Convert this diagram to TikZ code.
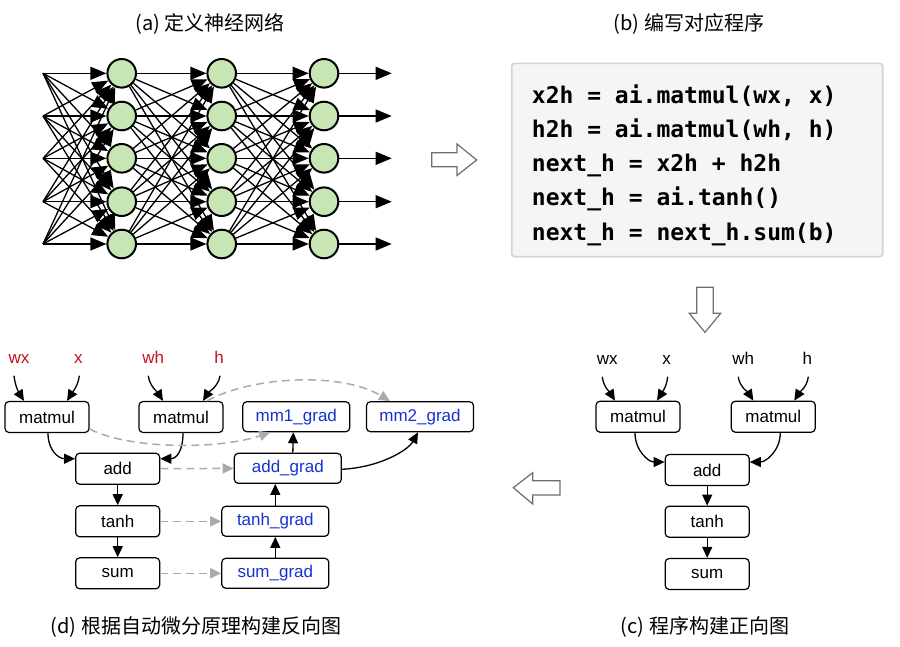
\documentclass[tikz,border=0pt]{standalone}
\usepackage{fontspec}
\setmainfont{Liberation Sans}
\newfontfamily\cjk{Noto Sans CJK SC}
\newfontfamily\codefont{DejaVu Sans Mono}
\usetikzlibrary{arrows.meta}
\definecolor{nodered}{RGB}{200,16,30}
\definecolor{gradblue}{RGB}{20,50,210}
\definecolor{dashgray}{RGB}{170,170,170}
\definecolor{cellgreen}{RGB}{200,230,180}
\definecolor{codebg}{RGB}{245,245,245}
\definecolor{codeframe}{RGB}{212,212,212}
\definecolor{hollow}{RGB}{110,110,110}
\tikzset{
	cell/.style={circle, draw, line width=2pt, fill=cellgreen, minimum size=28.6pt, inner sep=0pt},
	netedge/.style={line width=1.3pt, -{Triangle[length=16pt,width=13pt]}},
	opbox/.style={draw, rounded corners=4pt, line width=1.2pt, minimum width=84pt, minimum height=31pt, inner sep=0pt, font=\fontsize{17}{19}\selectfont},
	gradbox/.style={opbox, minimum width=107pt, minimum height=30pt, text=gradblue},
	inlabel/.style={anchor=base, inner sep=1pt, text depth=0pt, font=\fontsize{17}{19}\selectfont},
	fwd/.style={line width=1.3pt, -{Triangle[length=11pt,width=10pt]}},
	copy/.style={line width=1.5pt, color=dashgray, dash pattern=on 8pt off 5pt, -{Triangle[length=11pt,width=10pt]}},
	codeline/.style={anchor=base west, inner sep=0pt, font=\codefont\bfseries\fontsize{23}{23}\selectfont},
	caption/.style={font=\cjk\fontsize{20}{22}\selectfont},
	hollowarrow/.style={draw=hollow, line width=1.2pt, fill=white, line join=miter}
}

\begin{document}
\begin{tikzpicture}[x=1pt, y=-1pt]
			%%%%% START %%%%%
			\useasboundingbox (0, 0) rectangle (900, 646);
			
			\node[caption] (capa) at (210, 24) {(a) 定义神经网络};
			\node[caption] (capb) at (689, 24) {(b) 编写对应程序};
			\node[caption] (capd) at (196, 627) {(d) 根据自动微分原理构建反向图};
			\node[caption] (capc) at (705, 627) {(c) 程序构建正向图};
			
			% network
			\foreach \r/\y in {1/73.3, 2/116, 3/158.3, 4/201.7, 5/244} {
				\coordinate (in\r) at (43, \y);
				\node[cell] (a\r) at (121.7, \y) {};
				\node[cell] (b\r) at (221.7, \y) {};
				\node[cell] (c\r) at (324, \y) {};
				\coordinate (out\r) at (391.7, \y);
			}
			\foreach \i in {1,...,5}
				\foreach \j in {1,...,5} {
					\draw[netedge] (in\i) -- (a\j);
					\draw[netedge] (a\i) -- (b\j);
					\draw[netedge] (b\i) -- (c\j);
				}
			\foreach \i in {1,...,5}
				\draw[netedge] (c\i) -- (out\i);
			
			% program
			\draw[rounded corners=3pt, fill=codebg, draw=codeframe, line width=1.6pt] (511.7, 63.3) rectangle (882.7, 256.7);
			\node[codeline] (l1) at (531.7, 103.3) {x2h = ai.matmul(wx, x)};
			\node[codeline] (l2) at (531.7, 137.5) {h2h = ai.matmul(wh, h)};
			\node[codeline] (l3) at (531.7, 171.7) {next\_h = x2h + h2h};
			\node[codeline] (l4) at (531.7, 205.9) {next\_h = ai.tanh()};
			\node[codeline] (l5) at (531.7, 240.1) {next\_h = next\_h.sum(b)};
			
			% hollow arrows
			\draw[hollowarrow] (431.7, 152.7) -- (457, 152.7) -- (457, 144) -- (476.7, 160) -- (457, 175.5) -- (457, 166.7) -- (431.7, 166.7) -- cycle;
			\draw[hollowarrow] (696.7, 287.3) -- (713.3, 287.3) -- (713.3, 313.3) -- (720.7, 313.3) -- (705, 332.3) -- (689.3, 313.3) -- (696.7, 313.3) -- cycle;
			\draw[hollowarrow] (560, 480.7) -- (532.7, 480.7) -- (532.7, 472.7) -- (513.3, 487.7) -- (532.7, 504) -- (532.7, 495) -- (560, 495) -- cycle;
			
			% forward graph
			\node[inlabel] (fwx) at (607.3, 364.5) {wx};
			\node[inlabel] (fx) at (666.7, 364.5) {x};
			\node[inlabel] (fwh) at (743.3, 364.5) {wh};
			\node[inlabel] (fh) at (807.3, 364.5) {h};
			\node[opbox] (fm1) at (638, 416.7) {matmul};
			\node[opbox] (fm2) at (773.3, 416.7) {matmul};
			\node[opbox] (fadd) at (707.2, 470) {add};
			\node[opbox] (ftanh) at (707.2, 521.7) {tanh};
			\node[opbox] (fsum) at (707.2, 574) {sum};
			
			\draw[fwd] ([xshift=-5pt, yshift=-11pt]fwx.south) .. controls +(1, 10) and +(-5, -8) .. ([xshift=-23pt]fm1.north);
			\draw[fwd] ([xshift=1pt, yshift=-11pt]fx.south) .. controls +(-1, 10) and +(5, -8) .. ([xshift=19pt]fm1.north);
			\draw[fwd] ([xshift=-5pt, yshift=-11pt]fwh.south) .. controls +(1, 10) and +(-5, -8) .. ([xshift=-20pt]fm2.north);
			\draw[fwd] ([xshift=1pt, yshift=-11pt]fh.south) .. controls +(-1, 10) and +(5, -8) .. ([xshift=21pt]fm2.north);
			\draw[fwd] ([xshift=-3pt]fm1.south) .. controls +(0, 18) and +(-16, 0) .. ([yshift=8pt]fadd.west);
			\draw[fwd] ([xshift=7pt]fm2.south) .. controls +(0, 18) and +(16, 0) .. ([yshift=8pt]fadd.east);
			\draw[fwd] (fadd) -- (ftanh);
			\draw[fwd] (ftanh) -- (fsum);
			
			% backward graph
			\node[inlabel, text=nodered] (bwx) at (19, 363.5) {wx};
			\node[inlabel, text=nodered] (bx) at (78.3, 363.5) {x};
			\node[inlabel, text=nodered] (bwh) at (153.3, 363.5) {wh};
			\node[inlabel, text=nodered] (bh) at (219, 363.5) {h};
			\node[opbox] (bm1) at (47, 417) {matmul};
			\node[opbox] (bm2) at (181, 417) {matmul};
			\node[opbox] (badd) at (117.7, 468.7) {add};
			\node[opbox] (btanh) at (117.7, 521.3) {tanh};
			\node[opbox] (bsum) at (117.7, 573.3) {sum};
			
			\node[gradbox] (g1) at (296.3, 416.7) {mm1\_grad};
			\node[gradbox] (g2) at (420, 416.7) {mm2\_grad};
			\node[gradbox] (gadd) at (287.8, 468.3) {add\_grad};
			\node[gradbox] (gtanh) at (275.3, 521.3) {tanh\_grad};
			\node[gradbox] (gsum) at (275.3, 573.3) {sum\_grad};
			
			\draw[fwd] ([xshift=-5pt, yshift=-11pt]bwx.south) .. controls +(1, 10) and +(-5, -8) .. ([xshift=-23pt]bm1.north);
			\draw[fwd] ([xshift=1pt, yshift=-11pt]bx.south) .. controls +(-1, 10) and +(5, -8) .. ([xshift=20pt]bm1.north);
			\draw[fwd] ([xshift=-5pt, yshift=-11pt]bwh.south) .. controls +(1, 10) and +(-5, -8) .. ([xshift=-18pt]bm2.north);
			\draw[fwd] ([xshift=1pt, yshift=-11pt]bh.south) .. controls +(-1, 10) and +(5, -8) .. ([xshift=22pt]bm2.north);
			\draw[fwd] ([xshift=1pt]bm1.south) .. controls +(0, 18) and +(-16, 0) .. ([yshift=10pt]badd.west);
			\draw[fwd] ([xshift=2pt]bm2.south) .. controls +(0, 18) and +(16, 0) .. ([yshift=10pt]badd.east);
			\draw[fwd] (badd) -- (btanh);
			\draw[fwd] (btanh) -- (bsum);
			
			\draw[copy] (badd) -- (gadd);
			\draw[copy] (btanh) -- (gtanh);
			\draw[copy] (bsum) -- (gsum);
			\draw[copy] ([yshift=-12pt]bm1.east) .. controls +(41, 21) and +(-50, 17) .. ([xshift=-26pt]g1.south);
			\draw[copy] ([xshift=26pt]bm2.north) .. controls +(43, -24) and +(-50, -30) .. ([xshift=-30pt]g2.north);
			
			\draw[fwd] (gsum) -- (gtanh);
			\draw[fwd] (gtanh.north) -- (gtanh.north |- gadd.south);
			\draw[fwd] ([xshift=5pt]gadd.north) -- ([xshift=-3pt]g1.south);
			\draw[fwd] ([yshift=-1pt]gadd.east) .. controls +(38, -2) and +(-10, 18) .. ([xshift=-2pt]g2.south);
			
			%%%%% END %%%%%
\end{tikzpicture}
\end{document}
